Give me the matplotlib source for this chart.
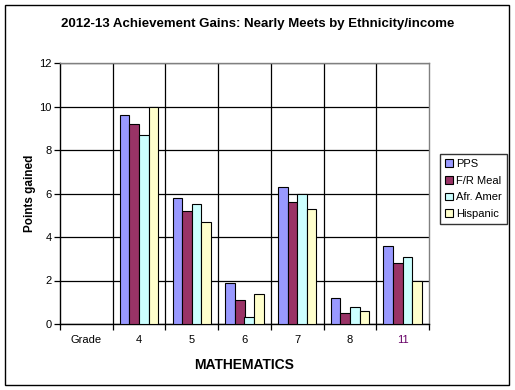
"""
2012-13 achievement gains, nearly meets, by ethnicity/income (mathematics).

Writes: out.png
"""

import numpy as np
import matplotlib.pyplot as plt
import matplotlib.patches as mpatches

plt.rcParams["font.family"] = ["Liberation Sans", "DejaVu Sans"]

CATEGORIES = ["Grade", "4", "5", "6", "7", "8", "11"]
SERIES     = ["PPS", "F/R Meal", "Afr. Amer", "Hispanic"]

PPS       = [9.6, 5.8, 1.9, 6.3, 1.2, 3.6]
FR_MEAL   = [9.2, 5.2, 1.1, 5.6, 0.5, 2.8]
AFR_AMER  = [8.7, 5.5, 0.3, 6.0, 0.8, 3.1]
HISPANIC  = [10.0, 4.7, 1.4, 5.3, 0.6, 2.0]

COLORS = ["#9999FF", "#993366", "#CCFFFF", "#FFFFCC"]
TEXT   = "#000000"


def main():
    W, H = 515, 390
    fig = plt.figure(figsize=(W / 100, H / 100), dpi=100)
    fig.patch.set_facecolor("white")

    # outer chart border
    fig.add_artist(mpatches.Rectangle(
        (5 / W, 5 / H), 504 / W, 380 / H, transform=fig.transFigure,
        facecolor="none", edgecolor="black", linewidth=1.0))

    left, right, top, bottom = 60, 429, 63, 324
    ax = fig.add_axes([left / W, (H - bottom) / H, (right - left) / W, (bottom - top) / H])

    series = [PPS, FR_MEAL, AFR_AMER, HISPANIC]
    n = len(series)
    bw = 1.0 / (n + 1.5)
    x = np.arange(1, len(CATEGORIES))
    for i, (vals, col, name) in enumerate(zip(series, COLORS, SERIES)):
        ax.bar(x + (i - (n - 1) / 2) * bw, vals, width=bw, color=col,
               edgecolor="black", linewidth=0.8, label=name, zorder=3)

    ax.set_xlim(-0.5, len(CATEGORIES) - 0.5)
    ax.set_ylim(0, 12)
    ax.set_yticks(range(0, 13, 2))
    ax.grid(axis="y", color="black", linewidth=0.9, zorder=1)
    for b in np.arange(0.5, len(CATEGORIES) - 1, 1.0):
        ax.axvline(b, color="black", linewidth=0.9, zorder=1)

    # ticks at category boundaries, labels at centers
    ax.set_xticks(np.arange(-0.5, len(CATEGORIES), 1.0))
    ax.set_xticklabels([])
    ax.set_xticks(np.arange(len(CATEGORIES)), minor=True)
    ax.set_xticklabels(CATEGORIES, minor=True, fontsize=8, color=TEXT)
    ax.get_xticklabels(minor=True)[-1].set_color("#660066")
    ax.tick_params(axis="x", which="major", length=4, direction="out", width=0.9)
    ax.tick_params(axis="x", which="minor", length=0, pad=8)
    ax.tick_params(axis="y", length=4, width=0.9, labelsize=8, pad=2)

    for s in ("top", "right"):
        ax.spines[s].set_color("#808080")
    for s in ("left", "bottom"):
        ax.spines[s].set_color("black")
    for s in ax.spines.values():
        s.set_linewidth(1.0)

    ax.set_ylabel("Points gained", fontsize=8.5, fontweight="bold", labelpad=2)
    ax.set_xlabel("MATHEMATICS", fontsize=10, fontweight="bold", labelpad=9)
    fig.text(258 / W, 1 - 24 / H, "2012-13 Achievement Gains: Nearly Meets by Ethnicity/income",
             ha="center", va="center", fontsize=9.5, fontweight="bold", color="#000000")

    fig.legend(loc="upper left", bbox_to_anchor=(440 / W, 1 - 154 / H),
               fontsize=8, frameon=True, fancybox=False, edgecolor="black",
               handlelength=0.7, handleheight=0.7, handletextpad=0.3,
               labelspacing=0.6, borderpad=0.45, borderaxespad=0)

    fig.savefig("out.png", dpi=100)
    plt.close(fig)


if __name__ == "__main__":
    main()
